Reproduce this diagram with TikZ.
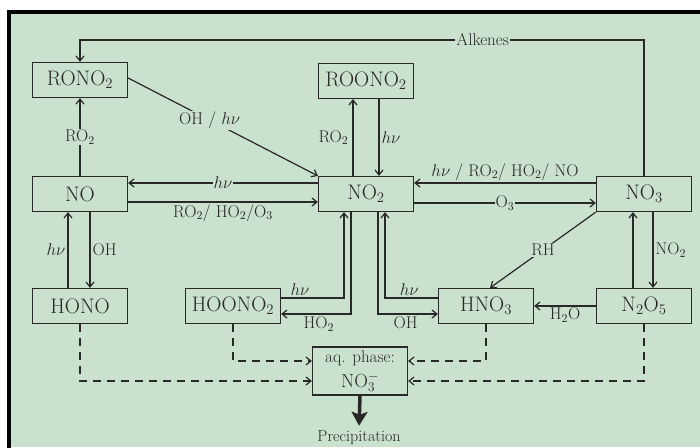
\RequirePackage{fix-cm}
\documentclass[tikz,border=0pt]{standalone}
\usepackage{xcolor}
\usetikzlibrary{arrows.meta, positioning}
\definecolor{paper}{RGB}{202,225,205}
\definecolor{ink}{RGB}{40,40,40}

\begin{document}
\begin{tikzpicture}[
    x=1pt, y=-1pt,
    box/.style={draw=ink, line width=1.2pt, text=ink, minimum width=95pt, minimum height=35pt, inner sep=2pt, align=center, font=\fontsize{21}{24}\selectfont},
    lab/.style={font=\fontsize{17}{19}\selectfont, text=ink, inner sep=2pt},
    onlab/.style={lab, fill=paper, inner sep=1pt},
    arrow/.style={-{Straight Barb[length=5pt,width=8pt]}, draw=ink, line width=1.2pt},
    aqarrow/.style={arrow, dash pattern=on 8pt off 6pt},
    bigarrow/.style={-{Stealth[length=14pt,width=16pt,inset=3pt]}, draw=ink, line width=3.5pt, shorten >=3pt}
]
\useasboundingbox (0,0) rectangle (700,447);
\fill[white] (0,0) rectangle (700,447);
\fill[paper] (9,12) rectangle (700,447);
\draw[line width=3.5pt] (9,449) -- (9,12) -- (702,12);

\node[box] (rono) at (80,80) {RONO$_2$};
\node[box] (roono) at (366,81) {ROONO$_2$};
\node[box] (no) at (80,194) {NO};
\node[box] (no2) at (366,194) {NO$_2$};
\node[box] (no3) at (644,194) {NO$_3$};
\node[box] (hono) at (80,306) {HONO};
\node[box] (hoono) at (233,306) {HOONO$_2$};
\node[box] (hno3) at (486,306) {HNO$_3$};
\node[box] (n2o5) at (644,306) {N$_2$O$_5$};
\node[box, minimum height=48pt, inner sep=0pt, font=\fontsize{19}{20}\selectfont] (aq) at (360,371) {{\fontsize{17}{18}\selectfont aq. phase:}\\[5pt]NO$_3^-$};
\node[lab, font=\fontsize{16}{18}\selectfont] (prec) at (359,438) {Precipitation};

\draw[arrow] (no3.north) |- node[onlab, pos=0.643]{Alkenes} ([yshift=22pt]rono.north) -- (rono.north);
\draw[arrow] ([yshift=2pt]rono.east) -- node[onlab, pos=0.43]{OH / $h\nu$} (no2.north west);
\draw[arrow] (no.north) -- node[onlab]{RO$_2$} (rono.south);
\draw[arrow] ([xshift=-13pt]no2.north) -- node[lab, left=2pt]{RO$_2$} ([xshift=-13pt]roono.south);
\draw[arrow] ([xshift=13pt]roono.south) -- node[lab, right]{$h\nu$} ([xshift=13pt]no2.north);
\draw[arrow] ([yshift=11pt]no2.west) -- node[onlab]{$h\nu$} ([yshift=11pt]no.east);
\draw[arrow] ([yshift=-8pt]no.east) -- node[lab, below]{RO$_2$/ HO$_2$/O$_3$} ([yshift=-8pt]no2.west);
\draw[arrow] ([yshift=11pt]no3.west) -- node[lab, above]{$h\nu$ / RO$_2$/ HO$_2$/ NO} ([yshift=11pt]no2.east);
\draw[arrow] ([yshift=-9pt]no2.east) -- node[onlab]{O$_3$} ([yshift=-9pt]no3.west);
\draw[arrow] (no3.south west) -- node[onlab]{RH} ([xshift=4pt]hno3.north);
\draw[arrow] ([xshift=-11pt]n2o5.north) -- ([xshift=-11pt]no3.south);
\draw[arrow] ([xshift=9pt]no3.south) -- node[lab, right]{NO$_2$} ([xshift=9pt]n2o5.north);
\draw[arrow] (n2o5.west) -- node[lab, below, inner sep=1pt]{H$_2$O} (hno3.east);
\draw[arrow] ([yshift=8pt]hoono.east) -| node[lab, above, pos=0.15]{$h\nu$} ([xshift=-22pt]no2.south);
\draw[arrow] ([xshift=-15pt]no2.south) |- node[lab, below, pos=0.73]{HO$_2$} ([yshift=-8pt]hoono.east);
\draw[arrow] ([yshift=8pt]hno3.west) -| node[lab, above, pos=0.27]{$h\nu$} ([xshift=19pt]no2.south);
\draw[arrow] ([xshift=12pt]no2.south) |- node[lab, below, pos=0.73]{OH} ([yshift=-8pt]hno3.west);
\draw[arrow] ([xshift=-12pt]hono.north) -- node[lab, left]{$h\nu$} ([xshift=-12pt]no.south);
\draw[arrow] ([xshift=10pt]no.south) -- node[lab, right]{OH} ([xshift=10pt]hono.north);
\draw[aqarrow] (hono.south) |- ([yshift=-10pt]aq.west);
\draw[aqarrow] (hoono.south) |- ([yshift=10pt]aq.west);
\draw[aqarrow] (hno3.south) |- ([yshift=10pt]aq.east);
\draw[aqarrow] (n2o5.south) |- ([yshift=-10pt]aq.east);
\draw[bigarrow] (aq.south) -- (prec.north);
\end{tikzpicture}
\end{document}
